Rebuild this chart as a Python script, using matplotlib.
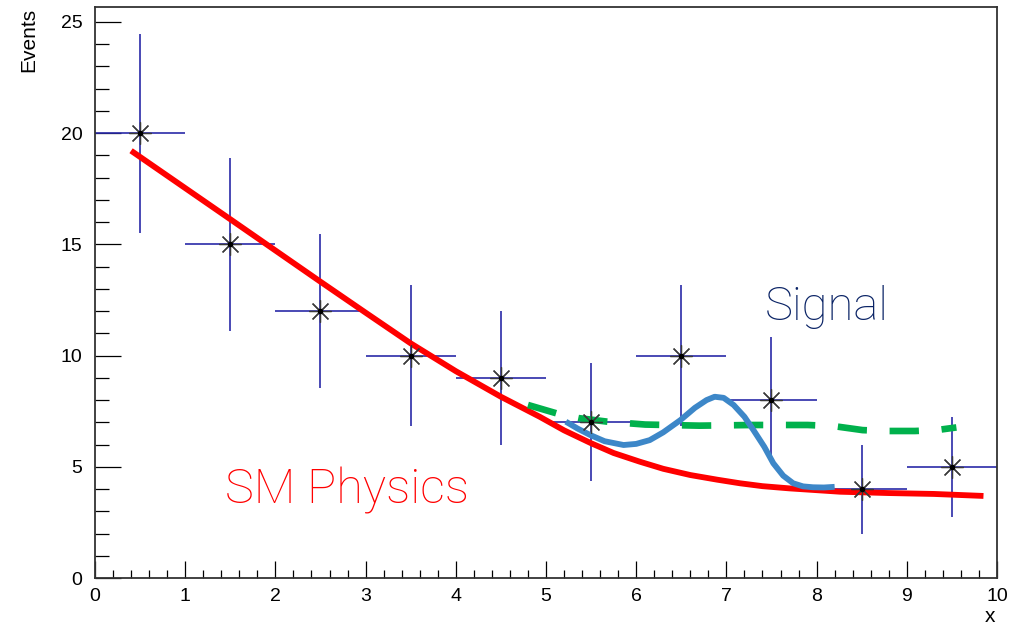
import numpy as np
import matplotlib
matplotlib.use("Agg")
import matplotlib.pyplot as plt
from matplotlib.ticker import MultipleLocator

# measured data (counts per bin, sqrt(N) errors)
bin_centers = [0.5, 1.5, 2.5, 3.5, 4.5, 5.5, 6.5, 7.5, 8.5, 9.5]
counts = [20, 15, 12, 10, 9, 7, 10, 8, 4, 5]
bin_half_width = 0.5

# background (SM) curve
sm_x = [0.4, 1.5, 2.5, 3.0, 3.5, 4.0, 4.5, 4.93, 5.2, 5.5, 5.75, 6.04, 6.3,
        6.6, 6.9, 7.15, 7.4, 7.7, 8.0, 8.26, 8.8, 9.3, 9.85]
sm_y = [19.21, 16.13, 13.32, 11.93, 10.55, 9.3, 8.15, 7.25, 6.64, 6.06, 5.62,
        5.23, 4.91, 4.63, 4.42, 4.26, 4.13, 4.03, 3.95, 3.88, 3.82, 3.78, 3.69]

# signal bump
sig_x = [5.22, 5.35, 5.49, 5.65, 5.86, 6.0, 6.15, 6.3, 6.49, 6.65, 6.78,
         6.87, 6.97, 7.08, 7.2, 7.3, 7.42, 7.52, 7.63, 7.74, 7.85, 7.96,
         8.08, 8.2]
sig_y = [7.03, 6.72, 6.43, 6.15, 5.98, 6.03, 6.2, 6.55, 7.1, 7.65, 8.0,
         8.15, 8.1, 7.78, 7.25, 6.65, 5.9, 5.16, 4.6, 4.26, 4.12, 4.08,
         4.07, 4.1]

# signal + background (dashed)
tot_x = [4.8, 5.12, 5.36, 5.68, 6.1, 6.7, 7.3, 7.9, 8.19, 8.51, 8.76, 9.09,
         9.33, 9.55]
tot_y = [7.78, 7.4, 7.19, 7.03, 6.9, 6.85, 6.88, 6.88, 6.83, 6.65, 6.61,
         6.61, 6.65, 6.77]

plt.rcParams['font.family'] = ['Liberation Sans', 'DejaVu Sans']

fig = plt.figure(figsize=(10.16, 6.27), dpi=100)
ax = fig.add_axes([0.0935, 0.0781, 0.8878, 0.9107])

yerr = np.sqrt(counts)
ax.errorbar(bin_centers, counts, xerr=bin_half_width, yerr=yerr, fmt='none',
            ecolor='#2a2aa8', elinewidth=1.2, capsize=0, zorder=2)
ax.plot(bin_centers, counts, linestyle='none', marker=(8, 2, 0),
        markersize=16, markeredgecolor='#3a3a3a', markeredgewidth=0.9, zorder=5)
ax.plot(bin_centers, counts, linestyle='none', marker='o', markersize=3,
        color='black', zorder=6)

ax.plot(sm_x, sm_y, color='#ff0000', lw=4.2, solid_capstyle='butt',
        solid_joinstyle='round', zorder=3)
ax.plot(sig_x, sig_y, color='#3d87c8', lw=4.2, solid_capstyle='butt',
        solid_joinstyle='round', zorder=4)
ax.plot(tot_x, tot_y, color='#00b14c', lw=4.8, dashes=(4.4, 3.4), zorder=3)

ax.text(1.44, 3.37, 'SM Physics', color='#ff0000', fontsize=35,
        ha='left', va='baseline', family=['Roboto', 'DejaVu Sans'],
        fontweight='light')
ax.text(7.43, 11.6, 'Signal', color='#0b2466', fontsize=34,
        ha='left', va='baseline', family=['Roboto', 'DejaVu Sans'],
        fontweight='light')

ax.set_xlim(0, 10)
ax.set_ylim(0, 25.67)
ax.xaxis.set_major_locator(MultipleLocator(1))
ax.xaxis.set_minor_locator(MultipleLocator(0.2))
ax.yaxis.set_major_locator(MultipleLocator(5))
ax.yaxis.set_minor_locator(MultipleLocator(1))
ax.tick_params(axis='x', which='major', direction='in', length=12, width=0.9,
               labelsize=14, pad=7, top=False)
ax.tick_params(axis='x', which='minor', direction='in', length=5.5, width=0.9,
               top=False)
ax.tick_params(axis='y', which='major', direction='in', length=19, width=0.9,
               labelsize=14, pad=9, right=False)
ax.tick_params(axis='y', which='minor', direction='in', length=10, width=0.9,
               right=False)
for s in ax.spines.values():
    s.set_linewidth(1.3)
    s.set_color('#333333')

fig.text(0.0285, 0.988, 'Events', rotation=90, ha='center', va='top',
         fontsize=15)
fig.text(0.9795, 0.002, 'x', ha='right', va='bottom', fontsize=15)

fig.savefig('out.png', dpi=100)
